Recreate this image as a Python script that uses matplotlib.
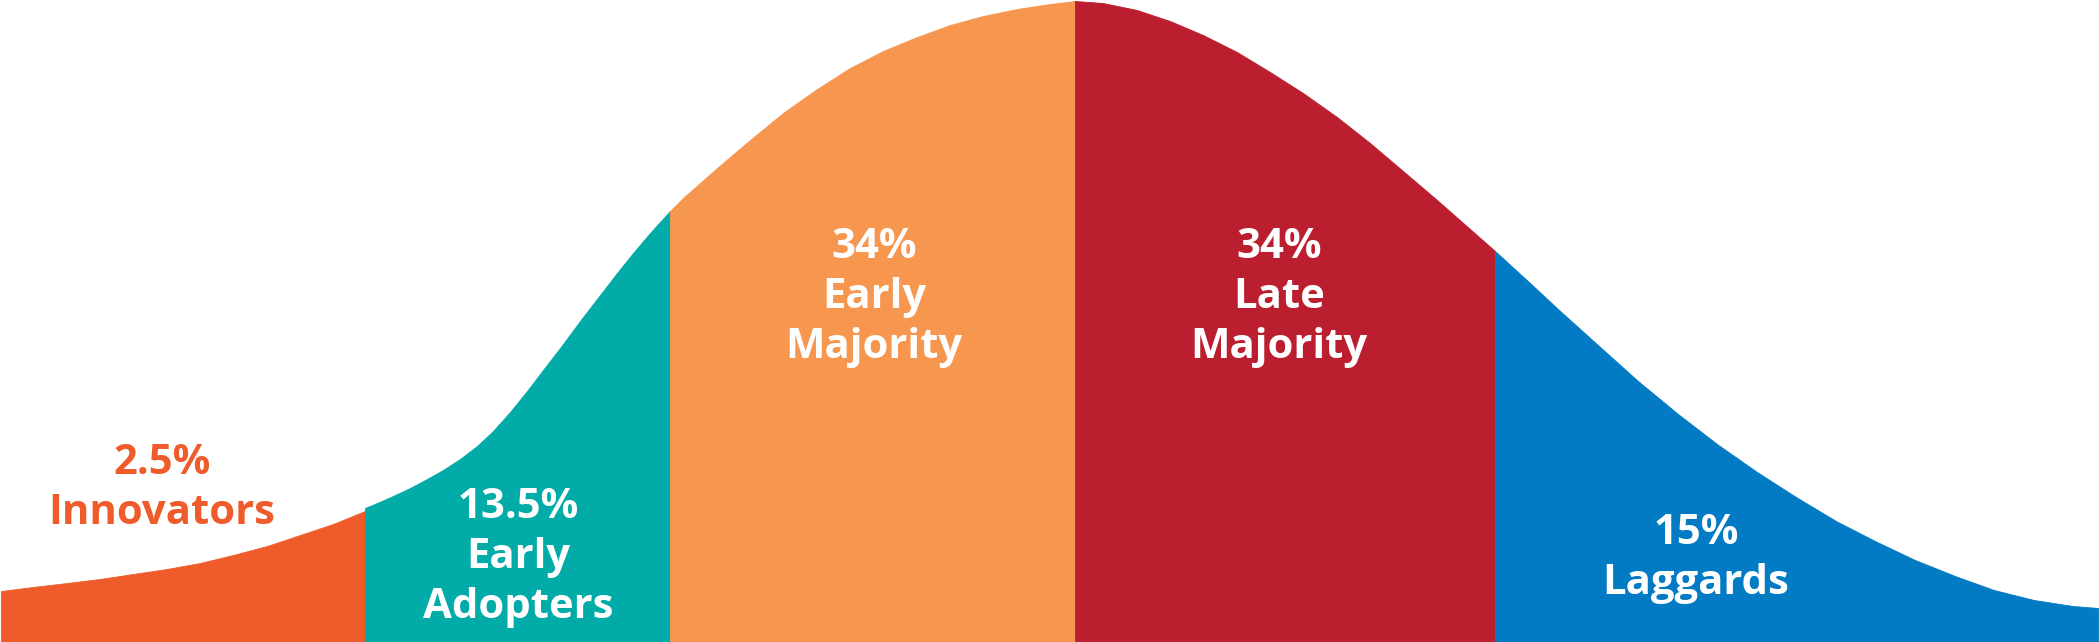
import matplotlib
matplotlib.use("Agg")
import matplotlib.pyplot as plt

# ---------------- data ----------------
categories = ["Innovators", "Early Adopters", "Early Majority", "Late Majority", "Laggards"]
shares = ["2.5%", "13.5%", "34%", "34%", "15%"]
name_lines = [["Innovators"], ["Early", "Adopters"], ["Early", "Majority"],
              ["Late", "Majority"], ["Laggards"]]

# curve outline per segment: x position and curve height (same pixel-like scale)
innov_x = [1, 33, 67, 100, 133, 167, 200, 233, 267, 300, 333, 365]
innov_h = [51, 55, 59, 63, 68, 73, 79, 87, 96, 107, 118, 131]

early_ad_x = [365, 377, 393, 410, 427, 443, 460, 477, 493, 510, 527, 543, 560,
              583, 600, 617, 633, 650, 670]
early_ad_h = [134, 139, 146, 154, 163, 172, 183, 196, 211, 230, 251, 272, 294,
              325, 347, 369, 389, 409, 431]

early_maj_x = [670, 683, 717, 750, 783, 817, 850, 883, 917, 950, 983, 1017, 1050, 1075]
early_maj_h = [431, 444, 474, 502, 529, 553, 574, 591, 605, 617, 626, 633, 638, 641]

late_maj_x = [1075, 1103, 1137, 1170, 1203, 1237, 1270, 1303, 1337, 1370, 1403, 1437, 1470, 1495]
late_maj_h = [641, 639, 632, 621, 607, 590, 570, 549, 525, 499, 471, 442, 413, 391]

laggard_x = [1495, 1530, 1559, 1599, 1638, 1678, 1717, 1757, 1796, 1836, 1875, 1915,
             1955, 1994, 2034, 2073, 2098]
laggard_h = [391, 359, 332, 296, 261, 228, 198, 170, 145, 121, 101, 82,
             66, 52, 42, 36, 34]

segments_x = [innov_x, early_ad_x, early_maj_x, late_maj_x, laggard_x]
segments_h = [innov_h, early_ad_h, early_maj_h, late_maj_h, laggard_h]

# ---------------- style ----------------
fill_colors = ["#EF5B2A", "#00ABA8", "#F7964F", "#BB1F2F", "#037BC4"]
text_colors = ["#EF5B2A", "white", "white", "white", "white"]
label_x = [162, 518, 874, 1279, 1696]
label_top_baseline = [168, 124, 384, 384, 98]   # height of first-line baseline
line_step = 50

W, H = 2099, 642
fig = plt.figure(figsize=(W / 100, H / 100), dpi=100)
ax = fig.add_axes([0, 0, 1, 1])
ax.set_xlim(0, W)
ax.set_ylim(0, H)
ax.axis("off")

for xs, hs, c in zip(segments_x, segments_h, fill_colors):
    ax.fill_between(xs, hs, 0, color=c, linewidth=0.6, edgecolor=c)

font = dict(family=["Open Sans", "DejaVu Sans"], fontweight="bold", fontsize=30.2)
for i in range(len(categories)):
    lines = [shares[i]] + name_lines[i]
    for j, t in enumerate(lines):
        ax.text(label_x[i], label_top_baseline[i] - j * line_step, t,
                ha="center", va="baseline", color=text_colors[i], **font)

fig.savefig("out.png", dpi=100, facecolor="white")
